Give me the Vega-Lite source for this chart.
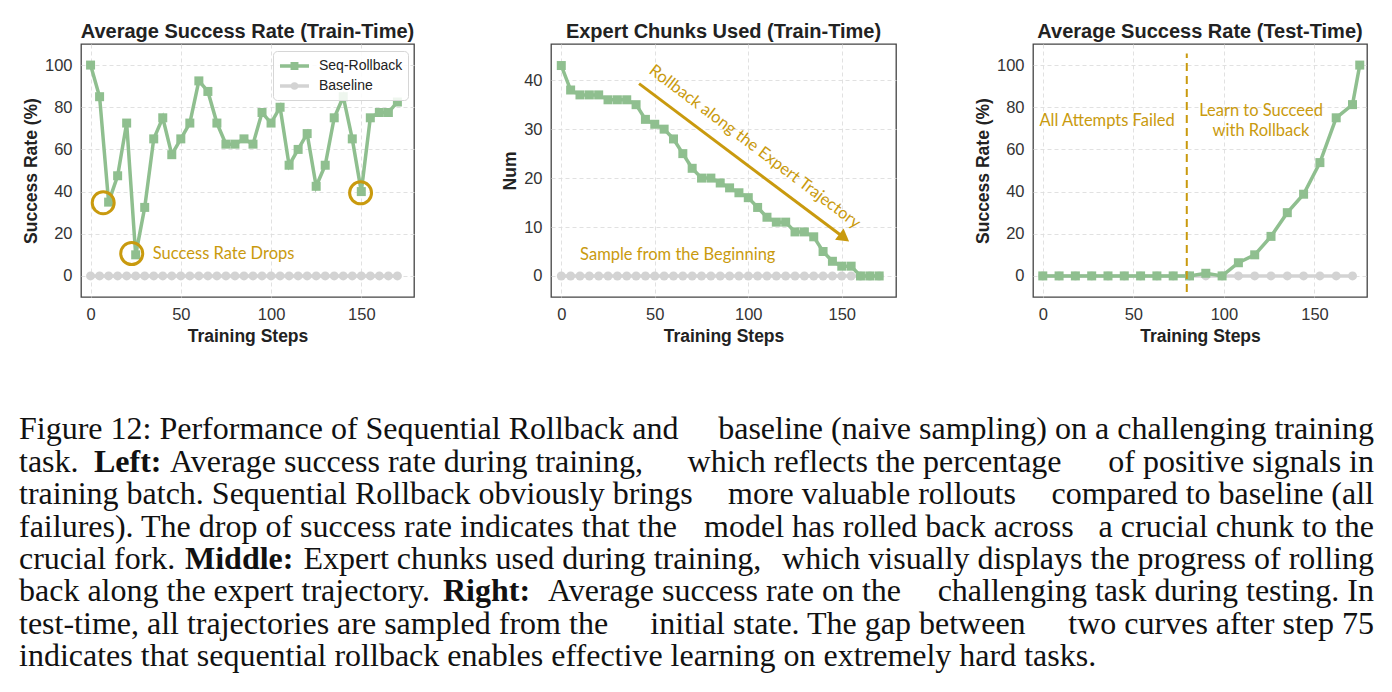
{
  "$schema": "https://vega.github.io/schema/vega-lite/v6.json",
  "background": "white",
  "padding": {"left": 19, "top": 21, "right": 5, "bottom": 5},
  "config": {
    "font": "Liberation Sans",
    "view": {"stroke": "#444444", "strokeWidth": 1.3},
    "axis": {
      "grid": true, "gridColor": "#dedede", "gridDash": [4, 3], "gridWidth": 0.9,
      "domain": false, "ticks": false, "labelOverlap": false,
      "labelFont": "Liberation Sans", "labelFontSize": 16.5, "labelColor": "#333333",
      "titleFont": "Liberation Sans", "titleFontSize": 17.5, "titleFontWeight": "bold", "titleColor": "#222222"
    },
    "axisX": {"labelPadding": 9, "titlePadding": 5},
    "axisY": {"labelPadding": 9, "titlePadding": 4},
    "title": {"font": "Liberation Sans", "fontSize": 20, "fontWeight": "bold", "color": "#222222", "offset": 2, "anchor": "middle"}
  },
  "datasets": {
    "train": [
      {"step": 0, "seq": 100, "base": 0}, {"step": 5, "seq": 85, "base": 0}, {"step": 10, "seq": 35, "base": 0},
      {"step": 15, "seq": 47.5, "base": 0}, {"step": 20, "seq": 72.5, "base": 0}, {"step": 25, "seq": 10, "base": 0},
      {"step": 30, "seq": 32.5, "base": 0}, {"step": 35, "seq": 65, "base": 0}, {"step": 40, "seq": 75, "base": 0},
      {"step": 45, "seq": 57.5, "base": 0}, {"step": 50, "seq": 65, "base": 0}, {"step": 55, "seq": 72.5, "base": 0},
      {"step": 60, "seq": 92.5, "base": 0}, {"step": 65, "seq": 87.5, "base": 0}, {"step": 70, "seq": 72.5, "base": 0},
      {"step": 75, "seq": 62.5, "base": 0}, {"step": 80, "seq": 62.5, "base": 0}, {"step": 85, "seq": 65, "base": 0},
      {"step": 90, "seq": 62.5, "base": 0}, {"step": 95, "seq": 77.5, "base": 0}, {"step": 100, "seq": 72.5, "base": 0},
      {"step": 105, "seq": 80, "base": 0}, {"step": 110, "seq": 52.5, "base": 0}, {"step": 115, "seq": 60, "base": 0},
      {"step": 120, "seq": 67.5, "base": 0}, {"step": 125, "seq": 42.5, "base": 0}, {"step": 130, "seq": 52.5, "base": 0},
      {"step": 135, "seq": 75, "base": 0}, {"step": 140, "seq": 85, "base": 0}, {"step": 145, "seq": 65, "base": 0},
      {"step": 150, "seq": 40, "base": 0}, {"step": 155, "seq": 75, "base": 0}, {"step": 160, "seq": 77.5, "base": 0},
      {"step": 165, "seq": 77.5, "base": 0}, {"step": 170, "seq": 82.5, "base": 0}
    ],
    "chunks": [
      {"step": 0, "seq": 43, "base": 0}, {"step": 5, "seq": 38, "base": 0}, {"step": 10, "seq": 37, "base": 0},
      {"step": 15, "seq": 37, "base": 0}, {"step": 20, "seq": 37, "base": 0}, {"step": 25, "seq": 36, "base": 0},
      {"step": 30, "seq": 36, "base": 0}, {"step": 35, "seq": 36, "base": 0}, {"step": 40, "seq": 35, "base": 0},
      {"step": 45, "seq": 32, "base": 0}, {"step": 50, "seq": 31, "base": 0}, {"step": 55, "seq": 30, "base": 0},
      {"step": 60, "seq": 28, "base": 0}, {"step": 65, "seq": 25, "base": 0}, {"step": 70, "seq": 22, "base": 0},
      {"step": 75, "seq": 20, "base": 0}, {"step": 80, "seq": 20, "base": 0}, {"step": 85, "seq": 19, "base": 0},
      {"step": 90, "seq": 18, "base": 0}, {"step": 95, "seq": 17, "base": 0}, {"step": 100, "seq": 16, "base": 0},
      {"step": 105, "seq": 14, "base": 0}, {"step": 110, "seq": 12, "base": 0}, {"step": 115, "seq": 11, "base": 0},
      {"step": 120, "seq": 11, "base": 0}, {"step": 125, "seq": 9, "base": 0}, {"step": 130, "seq": 9, "base": 0},
      {"step": 135, "seq": 8, "base": 0}, {"step": 140, "seq": 5, "base": 0}, {"step": 145, "seq": 3, "base": 0},
      {"step": 150, "seq": 2, "base": 0}, {"step": 155, "seq": 2, "base": 0}, {"step": 160, "seq": 0, "base": 0},
      {"step": 165, "seq": 0, "base": 0}, {"step": 170, "seq": 0, "base": 0}
    ],
    "test": [
      {"step": 0, "seq": 0, "base": 0}, {"step": 9, "seq": 0, "base": 0}, {"step": 18, "seq": 0, "base": 0},
      {"step": 27, "seq": 0, "base": 0}, {"step": 36, "seq": 0, "base": 0}, {"step": 45, "seq": 0, "base": 0},
      {"step": 54, "seq": 0, "base": 0}, {"step": 63, "seq": 0, "base": 0}, {"step": 72, "seq": 0, "base": 0},
      {"step": 81, "seq": 0, "base": 0}, {"step": 90, "seq": 1.25, "base": 0}, {"step": 99, "seq": 0, "base": 0},
      {"step": 108, "seq": 6.25, "base": 0}, {"step": 117, "seq": 10, "base": 0}, {"step": 126, "seq": 18.75, "base": 0},
      {"step": 135, "seq": 30, "base": 0}, {"step": 144, "seq": 38.75, "base": 0}, {"step": 153, "seq": 53.75, "base": 0},
      {"step": 162, "seq": 75, "base": 0}, {"step": 171, "seq": 81.25, "base": 0}, {"step": 175, "seq": 100}
    ],
    "drops": [
      {"step": 7, "value": 34.7}, {"step": 22.8, "value": 10.6}, {"step": 149.6, "value": 39.4}
    ],
    "caption": [
      {"line": 1, "pos": 0, "a": "l", "text": "Figure 12: Performance of Sequential Rollback and"},
      {"line": 1, "pos": 1, "a": "r", "text": "baseline (naive sampling) on a challenging training"},
      {"line": 2, "pos": 0, "a": "l", "text": "task."},
      {"line": 2, "pos": 0.0553, "a": "b", "text": "Left:"},
      {"line": 2, "pos": 0.1114, "a": "l", "text": "Average success rate during training,"},
      {"line": 2, "pos": 0.6314, "a": "c", "text": "which reflects the percentage"},
      {"line": 2, "pos": 1, "a": "r", "text": "of positive signals in"},
      {"line": 3, "pos": 0, "a": "l", "text": "training batch. Sequential Rollback obviously brings"},
      {"line": 3, "pos": 0.6295, "a": "c", "text": "more valuable rollouts"},
      {"line": 3, "pos": 1, "a": "r", "text": "compared to baseline (all"},
      {"line": 4, "pos": 0, "a": "l", "text": "failures). The drop of success rate indicates that the"},
      {"line": 4, "pos": 0.642, "a": "c", "text": "model has rolled back across"},
      {"line": 4, "pos": 1, "a": "r", "text": "a crucial chunk to the"},
      {"line": 5, "pos": 0, "a": "l", "text": "crucial fork."},
      {"line": 5, "pos": 0.1225, "a": "b", "text": "Middle:"},
      {"line": 5, "pos": 0.21, "a": "l", "text": "Expert chunks used during training,"},
      {"line": 5, "pos": 1, "a": "r", "text": "which visually displays the progress of rolling"},
      {"line": 6, "pos": 0, "a": "l", "text": "back along the expert trajectory."},
      {"line": 6, "pos": 0.3129, "a": "b", "text": "Right:"},
      {"line": 6, "pos": 0.3904, "a": "l", "text": "Average success rate on the"},
      {"line": 6, "pos": 1, "a": "r", "text": "challenging task during testing. In"},
      {"line": 7, "pos": 0, "a": "l", "text": "test-time, all trajectories are sampled from the"},
      {"line": 7, "pos": 0.6044, "a": "c", "text": "initial state. The gap between"},
      {"line": 7, "pos": 1, "a": "r", "text": "two curves after step 75"},
      {"line": 8, "pos": 0, "a": "l", "text": "indicates that sequential rollback enables effective learning on extremely hard tasks."}
    ]
  },
  "vconcat": [
    {
      "bounds": "flush",
      "spacing": 137,
      "hconcat": [
        {
          "width": 333,
          "height": 253,
          "title": {"text": "Average Success Rate (Train-Time)"},
          "data": {"name": "train"},
          "transform": [{"fold": ["seq", "base"], "as": ["series", "value"]}],
          "encoding": {
            "x": {"field": "step", "type": "quantitative", "scale": {"domain": [-5.3, 179.2], "nice": false, "zero": false}, "axis": {"values": [0, 50, 100, 150], "title": "Training Steps"}},
            "y": {"field": "value", "type": "quantitative", "scale": {"domain": [-10, 110], "nice": false, "zero": false}, "axis": {"values": [0, 20, 40, 60, 80, 100], "title": "Success Rate (%)"}}
          },
          "layer": [
            {"transform": [{"filter": "datum.series === 'base'"}], "mark": {"type": "line", "color": "#d3d3d3", "strokeWidth": 3.5}},
            {"transform": [{"filter": "datum.series === 'base'"}], "mark": {"type": "point", "shape": "circle", "filled": true, "opacity": 1, "color": "#d3d3d3", "size": 81}},
            {"transform": [{"filter": "datum.series === 'seq'"}], "mark": {"type": "line", "color": "#8fbf8f", "strokeWidth": 3.5}},
            {"transform": [{"filter": "datum.series === 'seq'"}], "mark": {"type": "point", "shape": "square", "filled": true, "opacity": 1, "color": "#8fbf8f", "size": 81}},
            {
              "data": {"values": [{"step": 0, "value": 0}]},
              "mark": {"type": "point", "filled": false, "opacity": 0, "strokeWidth": 3.5},
              "encoding": {
                "color": {
                  "datum": "Seq-Rollback", "type": "nominal",
                  "scale": {"domain": ["Seq-Rollback", "Baseline"], "range": ["#8fbf8f", "#d3d3d3"]},
                  "legend": {
                    "title": null, "orient": "none", "legendX": 192, "legendY": 7,
                    "symbolSize": 256, "symbolStrokeWidth": 3.5, "symbolOpacity": 1,
                    "labelFont": "Liberation Sans", "labelFontSize": 14, "labelColor": "#222222", "labelOffset": 21,
                    "fillColor": "rgba(255,255,255,0.85)", "strokeColor": "#d6d6d6", "cornerRadius": 4,
                    "padding": 5, "rowPadding": 0
                  }
                },
                "shape": {
                  "datum": "Seq-Rollback", "type": "nominal",
                  "scale": {"domain": ["Seq-Rollback", "Baseline"], "range": ["M-1,0H2.625M0.5375,-0.275H1.0875V0.275H0.5375Z", "M-1,0H2.625M1.0625,0A0.25,0.25,0,1,1,0.5625,0A0.25,0.25,0,1,1,1.0625,0Z"]},
                  "legend": {"title": null, "orient": "none", "legendX": 192, "legendY": 7}
                }
              }
            },
            {"data": {"name": "drops"}, "mark": {"type": "point", "shape": "circle", "filled": false, "opacity": 1, "stroke": "#c99a0e", "strokeWidth": 3, "size": 484}},
            {
              "data": {"values": [{"step": 34.5, "value": 10.6, "label": "Success Rate Drops"}]},
              "mark": {"type": "text", "align": "left", "baseline": "middle", "font": "Lato", "fontSize": 16.5, "color": "#c99a0e"},
              "encoding": {"text": {"field": "label"}}
            }
          ]
        },
        {
          "width": 345,
          "height": 253,
          "title": {"text": "Expert Chunks Used (Train-Time)"},
          "data": {"name": "chunks"},
          "transform": [{"fold": ["seq", "base"], "as": ["series", "value"]}],
          "encoding": {
            "x": {"field": "step", "type": "quantitative", "scale": {"domain": [-5.5, 179], "nice": false, "zero": false}, "axis": {"values": [0, 50, 100, 150], "title": "Training Steps"}},
            "y": {"field": "value", "type": "quantitative", "scale": {"domain": [-4.3, 47.4], "nice": false, "zero": false}, "axis": {"values": [0, 10, 20, 30, 40], "title": "Num"}}
          },
          "layer": [
            {"transform": [{"filter": "datum.series === 'base'"}], "mark": {"type": "line", "color": "#d3d3d3", "strokeWidth": 3.5}},
            {"transform": [{"filter": "datum.series === 'base'"}], "mark": {"type": "point", "shape": "circle", "filled": true, "opacity": 1, "color": "#d3d3d3", "size": 81}},
            {"transform": [{"filter": "datum.series === 'seq'"}], "mark": {"type": "line", "color": "#8fbf8f", "strokeWidth": 3.5}},
            {"transform": [{"filter": "datum.series === 'seq'"}], "mark": {"type": "point", "shape": "square", "filled": true, "opacity": 1, "color": "#8fbf8f", "size": 81}},
            {
              "data": {"values": [{"step": 41.6, "value": 39.3, "step2": 151.3, "value2": 7.8}]},
              "mark": {"type": "rule", "color": "#c99a0e", "strokeWidth": 3},
              "encoding": {"x2": {"field": "step2"}, "y2": {"field": "value2"}}
            },
            {
              "data": {"values": [{"step": 151.3, "value": 7.8}]},
              "mark": {"type": "point", "shape": "triangle-up", "filled": true, "opacity": 1, "color": "#c99a0e", "size": 200, "angle": 127}
            },
            {
              "data": {"values": [{"step": 103.5, "value": 26.4, "label": "Rollback along the Expert Trajectory"}]},
              "mark": {"type": "text", "align": "center", "baseline": "middle", "angle": 37, "font": "Lato", "fontSize": 16.5, "color": "#c99a0e"},
              "encoding": {"text": {"field": "label"}}
            },
            {
              "data": {"values": [{"step": 62.3, "value": 4.35, "label": "Sample from the Beginning"}]},
              "mark": {"type": "text", "align": "center", "baseline": "middle", "font": "Lato", "fontSize": 16.5, "color": "#c99a0e"},
              "encoding": {"text": {"field": "label"}}
            }
          ]
        },
        {
          "width": 334,
          "height": 253,
          "title": {"text": "Average Success Rate (Test-Time)"},
          "data": {"name": "test"},
          "transform": [{"fold": ["seq", "base"], "as": ["series", "value"]}, {"filter": "isValid(datum.value)"}],
          "encoding": {
            "x": {"field": "step", "type": "quantitative", "scale": {"domain": [-5.4, 179], "nice": false, "zero": false}, "axis": {"values": [0, 50, 100, 150], "title": "Training Steps"}},
            "y": {"field": "value", "type": "quantitative", "scale": {"domain": [-10, 110], "nice": false, "zero": false}, "axis": {"values": [0, 20, 40, 60, 80, 100], "title": "Success Rate (%)"}}
          },
          "layer": [
            {"transform": [{"filter": "datum.series === 'base'"}], "mark": {"type": "line", "color": "#d3d3d3", "strokeWidth": 3.5}},
            {"transform": [{"filter": "datum.series === 'base'"}], "mark": {"type": "point", "shape": "circle", "filled": true, "opacity": 1, "color": "#d3d3d3", "size": 81}},
            {"transform": [{"filter": "datum.series === 'seq'"}], "mark": {"type": "line", "color": "#8fbf8f", "strokeWidth": 3.5}},
            {"transform": [{"filter": "datum.series === 'seq'"}], "mark": {"type": "point", "shape": "square", "filled": true, "opacity": 1, "color": "#8fbf8f", "size": 81}},
            {
              "data": {"values": [{"step": 79.5, "value": -7.6, "value2": 105.5}]},
              "mark": {"type": "rule", "color": "#c99a0e", "strokeWidth": 2, "strokeDash": [8, 5]},
              "encoding": {"y2": {"field": "value2"}}
            },
            {
              "data": {"values": [
                {"step": 35.5, "value": 73.4, "label": "All Attempts Failed"},
                {"step": 120.5, "value": 78.1, "label": "Learn to Succeed"},
                {"step": 120.5, "value": 68.6, "label": "with Rollback"}
              ]},
              "mark": {"type": "text", "align": "center", "baseline": "middle", "font": "Lato", "fontSize": 16.5, "color": "#c99a0e"},
              "encoding": {"text": {"field": "label"}}
            }
          ]
        }
      ]
    },
    {
      "width": 1293,
      "height": 259.2,
      "view": {"stroke": null},
      "data": {"name": "caption"},
      "encoding": {
        "x": {"field": "pos", "type": "quantitative", "scale": {"domain": [0, 1], "range": [-62, 1293]}, "axis": null},
        "y": {"field": "line", "type": "quantitative", "scale": {"domain": [0, 8], "reverse": true, "nice": false, "zero": false}, "axis": null},
        "text": {"field": "text"}
      },
      "layer": [
        {"transform": [{"filter": "datum.a === 'l'"}], "mark": {"type": "text", "align": "left", "baseline": "alphabetic", "font": "Liberation Serif", "fontSize": 32, "color": "#111111"}},
        {"transform": [{"filter": "datum.a === 'b'"}], "mark": {"type": "text", "align": "left", "baseline": "alphabetic", "font": "Liberation Serif", "fontSize": 32, "fontWeight": "bold", "color": "#111111"}},
        {"transform": [{"filter": "datum.a === 'c'"}], "mark": {"type": "text", "align": "center", "baseline": "alphabetic", "font": "Liberation Serif", "fontSize": 32, "color": "#111111"}},
        {"transform": [{"filter": "datum.a === 'r'"}], "mark": {"type": "text", "align": "right", "baseline": "alphabetic", "font": "Liberation Serif", "fontSize": 32, "color": "#111111"}}
      ]
    }
  ],
  "spacing": 61
}
